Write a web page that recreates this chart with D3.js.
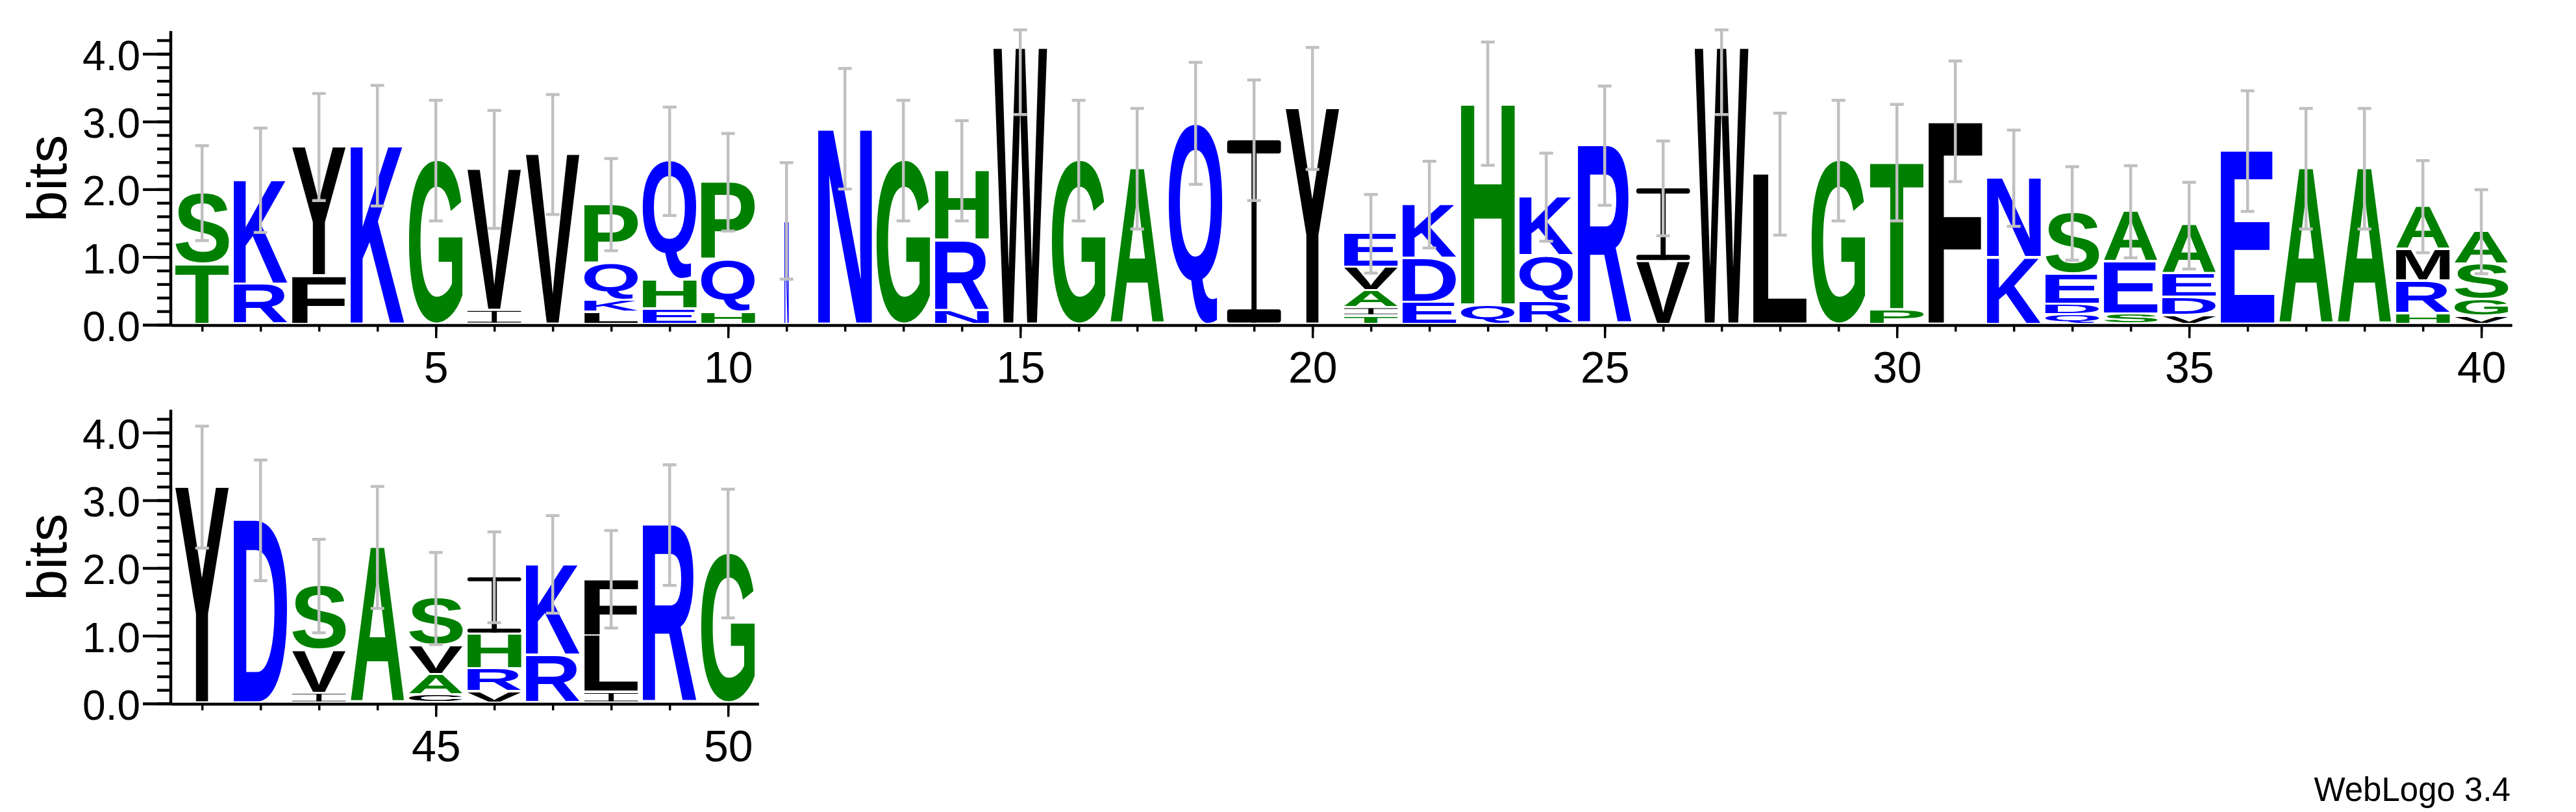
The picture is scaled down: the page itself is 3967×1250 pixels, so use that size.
<!DOCTYPE html>
<html><head><meta charset="utf-8">
<script src="https://cdn.jsdelivr.net/npm/d3@7"></script>
<style>html,body{margin:0;padding:0;background:#fff;overflow:hidden}</style>
</head><body>
<svg id="c" width="3967" height="1250" xmlns="http://www.w3.org/2000/svg"></svg>
<script>
// ---- data (letters listed bottom -> top, heights in bits) ----
const positions = d3.range(1, 51);
const stackLetters = [
  "TS","RK","FY","K","G","IV","V","LKQP","EHQ","HQP",
  "N","N","G","NRH","W","G","A","Q","I","Y",
  "TIAVE","EDK","QH","RQK","R","VI","W","L","G","PT",
  "F","KN","QDES","SEA","VDEA","E","A","A","HRMA","VGSA",
  "Y","D","IVS","A","CAVS","VRHI","RK","ILF","R","G"
];
const stackHeights = [
  [0.85,1.06],[0.56,1.54],[0.68,1.91],[2.61],[2.39],[0.17,2.09],[2.48],[0.14,0.18,0.54,0.88],[0.19,0.43,1.76],[0.15,0.77,1.15],
  [1.50],[2.86],[2.39],[0.17,1.04,1.03],[4.05],[2.39],[2.27],[2.94],[2.69],[3.16],
  [0.09,0.12,0.25,0.35,0.50],[0.29,0.65,0.80],[0.25,2.98],[0.30,0.68,0.87],[2.61],[0.89,1.09],[4.05],[2.19],[2.39],[0.18,2.18],
  [2.97],[0.95,1.18],[0.105,0.155,0.45,0.90],[0.115,0.77,0.75],[0.10,0.26,0.35,0.72],[2.53],[2.27],[2.27],[0.12,0.48,0.47,0.64],[0.08,0.25,0.52,0.49],
  [3.16],[2.67],[0.11,0.63,0.96],[2.27],[0.086,0.30,0.43,0.70],[0.13,0.34,0.51,0.85],[0.67,1.35],[0.12,0.84,0.84],[2.60],[2.18]
];
const errorHalf = [
  0.70,0.77,0.79,0.89,0.89,0.87,0.885,0.68,0.80,0.72,
  0.86,0.89,0.89,0.74,0.98,0.89,0.89,0.90,0.89,0.90,
  0.58,0.64,0.91,0.65,0.88,0.70,0.98,0.90,0.89,0.86,
  0.89,0.71,0.69,0.68,0.64,0.89,0.89,0.89,0.68,0.62,
  0.90,0.89,0.69,0.90,0.68,0.67,0.72,0.72,0.89,0.95
];
const widthFraction = [
  1,1,1,1,1,1,1,1,1,1,
  0.08,1,1,1,1,1,1,1,1,1,
  1,1,1,1,1,1,1,1,1,1,
  1,1,1,1,1,1,1,1,1,1,
  1,1,1,1,1,1,1,1,1,1
];
const row1XTicks = [5,10,15,20,25,30,35,40];
const row2XTicks = [45,50];
const yTickValues = [0,1,2,3,4];
const yTickLabels = ["0.0","1.0","2.0","3.0","4.0"];
const greenSet = "STGAHP", blueSet = "KRNQDE";
const colorOf = ch => greenSet.includes(ch) ? "#008000" : (blueSet.includes(ch) ? "#0000ff" : "#000000");

// ---- layout ----
const BIT = 104.3, YMAX = 4.32, SPACING = 90, X0 = 266.2, YAXIS_X = 262.5;
const LETTER_W = 82.8, LIFT = 3.5, GAP = 3.5;
const FONT = '"Liberation Sans", Arial, Helvetica, sans-serif';
const rows = [
  {first:1, last:40, base:500, ticks:row1XTicks},
  {first:41, last:50, base:1083, ticks:row2XTicks}
];

const svg = d3.select("#c");
svg.append("rect").attr("width",3967).attr("height",1250).attr("fill","#fff");

const ctx = document.createElement("canvas").getContext("2d");
const FS = 200;
ctx.font = `bold ${FS}px "Liberation Sans"`;
const inkCache = {};
function ink(ch){
  if(!inkCache[ch]){
    const m = ctx.measureText(ch);
    inkCache[ch] = {l:m.actualBoundingBoxLeft, r:m.actualBoundingBoxRight, a:m.actualBoundingBoxAscent, d:m.actualBoundingBoxDescent};
  }
  return inkCache[ch];
}

rows.forEach(row => {
  const n = row.last - row.first + 1;
  const x = d3.scaleLinear().domain([row.first-0.5, row.last+0.5]).range([X0, X0 + n*SPACING]);
  const y = d3.scaleLinear().domain([0, YMAX]).range([row.base, row.base - YMAX*BIT]);
  const rowPos = positions.filter(p => p >= row.first && p <= row.last);

  // letters
  const gL = svg.append("g");
  rowPos.forEach(p => {
    const letters = stackLetters[p-1], heights = stackHeights[p-1];
    const w = LETTER_W * widthFraction[p-1];
    const cx = x(p), x0 = cx - w/2;
    let cum = 0;
    for(let i=0;i<letters.length;i++){
      const ch = letters[i], h = heights[i];
      const boxBottom = y(cum) - LIFT;
      const boxTop = y(cum + h) - LIFT;
      cum += h;
      const gap = i > 0 ? Math.min(GAP, 0.3*(boxBottom-boxTop)) : 0;
      const bot = boxBottom - gap;
      const hh = bot - boxTop;
      const col = colorOf(ch);
      if(ch === "I"){
        const barH = Math.max(0.8, 0.072*hh);
        const rx = Math.min(4, barH/2);
        const sw = Math.max(2, 0.095*w);
        gL.append("rect").attr("x",cx-sw/2).attr("y",boxTop).attr("width",sw).attr("height",hh).attr("fill",col);
        gL.append("rect").attr("x",x0).attr("y",boxTop).attr("width",w).attr("height",barH).attr("rx",rx).attr("fill",col);
        gL.append("rect").attr("x",x0).attr("y",bot-barH).attr("width",w).attr("height",barH).attr("rx",rx).attr("fill",col);
      } else {
        const b = ink(ch);
        const sx = w/(b.l+b.r), sy = hh/(b.a+b.d);
        gL.append("text").text(ch)
          .attr("x",0).attr("y",0)
          .attr("font-family",FONT).attr("font-weight","bold").attr("font-size",FS)
          .attr("fill",col)
          .attr("transform",`translate(${x0},${boxTop}) scale(${sx},${sy}) translate(${b.l},${b.a})`);
      }
    }
  });

  // error bars
  const gE = svg.append("g").attr("stroke","#c0c0c0").attr("stroke-width",4.5).attr("fill","none");
  rowPos.forEach(p => {
    const top = d3.sum(stackHeights[p-1]);
    const lo = top - errorHalf[p-1], hi = Math.min(top + errorHalf[p-1], YMAX);
    const cx = x(p), y1 = y(lo) - LIFT, y2 = y(hi) - LIFT;
    gE.append("line").attr("x1",cx).attr("x2",cx).attr("y1",y1).attr("y2",y2);
    gE.append("line").attr("x1",cx-10.5).attr("x2",cx+10.5).attr("y1",y1).attr("y2",y1);
    gE.append("line").attr("x1",cx-10.5).attr("x2",cx+10.5).attr("y1",y2).attr("y2",y2);
  });

  // y axis
  const yMinor = svg.append("g").attr("transform",`translate(${YAXIS_X},0)`)
    .call(d3.axisLeft(y).tickValues(d3.range(0,4.3,0.2)).tickSize(20.5).tickSizeOuter(0).tickFormat(""));
  yMinor.select(".domain").attr("stroke-width",4.5).attr("stroke-linecap","square");
  yMinor.selectAll(".tick line").attr("stroke-width",4.3);
  const yMajor = svg.append("g").attr("transform",`translate(${YAXIS_X},0)`)
    .call(d3.axisLeft(y).tickValues(yTickValues).tickSize(42.5).tickPadding(4).tickSizeOuter(0).tickFormat((d,i)=>yTickLabels[i]));
  yMajor.select(".domain").remove();
  yMajor.selectAll(".tick line").attr("stroke-width",4.3);
  yMajor.selectAll(".tick text").attr("font-size",64).attr("font-family",FONT).attr("fill","#000").attr("dy","0.38em");

  // bits label
  svg.append("text").text("bits")
    .attr("transform",`translate(102,${(y(0)+y(YMAX))/2}) rotate(-90)`)
    .attr("text-anchor","middle").attr("font-family",FONT).attr("font-size",86).attr("fill","#000");

  // x axis
  const xMinor = svg.append("g").attr("transform",`translate(0,${row.base+0.5})`)
    .call(d3.axisBottom(x).tickValues(rowPos).tickSize(10).tickSizeOuter(0).tickFormat(""));
  xMinor.select(".domain").attr("stroke-width",4.3).attr("stroke-linecap","square");
  xMinor.selectAll(".tick line").attr("stroke-width",3.5);
  const xMajor = svg.append("g").attr("transform",`translate(0,${row.base+0.5})`)
    .call(d3.axisBottom(x).tickValues(row.ticks).tickSize(20).tickPadding(20).tickSizeOuter(0).tickFormat(d3.format("d")));
  xMajor.select(".domain").remove();
  xMajor.selectAll(".tick line").attr("stroke-width",3.5);
  xMajor.selectAll(".tick text").attr("font-size",68).attr("font-family",FONT).attr("fill","#000");
});

svg.append("text").text("WebLogo 3.4")
  .attr("x",3866).attr("y",1233).attr("text-anchor","end")
  .attr("font-family",FONT).attr("font-size",51).attr("fill","#000");
</script>
</body></html>
